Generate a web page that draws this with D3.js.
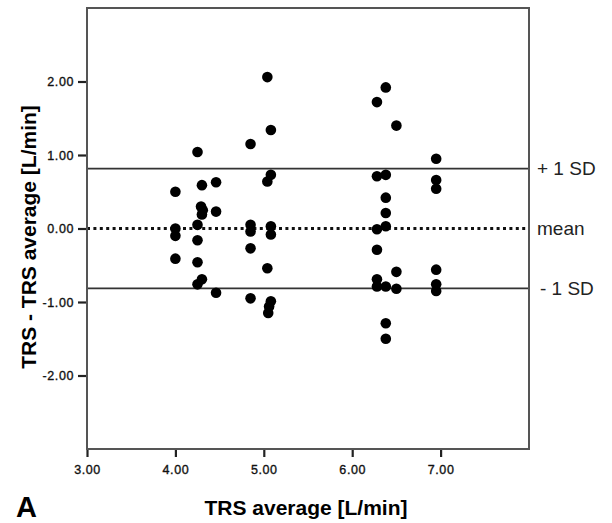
<!DOCTYPE html>
<html>
<head>
<meta charset="utf-8">
<script src="https://cdn.jsdelivr.net/npm/d3@7"></script>
<style>
  body { margin: 0; background: #fff; }
  svg { display: block; font-family: Arial, "Liberation Sans", sans-serif; }
</style>
</head>
<body>
<div id="chart"></div>
<script>
// TRS average (x) and TRS - TRS average (y)
const trsAverage = [
    4.00, 4.00, 4.00, 4.00,
    4.25, 4.30, 4.29, 4.31, 4.30, 4.25, 4.25, 4.25, 4.30, 4.25,
    4.46, 4.46, 4.46,
    4.85, 4.85, 4.85, 4.85, 4.85,
    5.04, 5.08, 5.08, 5.04, 5.08, 5.08, 5.04, 5.08, 5.06, 5.05,
    6.28, 6.28, 6.28, 6.28, 6.28, 6.28,
    6.38, 6.38, 6.38, 6.38, 6.38, 6.38, 6.38, 6.38,
    6.50, 6.50, 6.50,
    6.95, 6.95, 6.95, 6.95, 6.95, 6.95
];
const trsDiff = [
    0.50, 0.00, -0.10, -0.41,
    1.04, 0.59, 0.30, 0.25, 0.19, 0.05, -0.16, -0.46, -0.69, -0.76,
    0.63, 0.23, -0.875,
    1.15, 0.05, -0.04, -0.27, -0.95,
    2.06, 1.34, 0.73, 0.64, 0.03, -0.08, -0.54, -0.99, -1.06, -1.15,
    1.72, 0.71, -0.01, -0.29, -0.69, -0.79,
    1.92, 0.73, 0.42, 0.21, 0.03, -0.79, -1.29, -1.50,
    1.40, -0.59, -0.82,
    0.95, 0.66, 0.54, -0.56, -0.76, -0.85
];

const xTicks = [3, 4, 5, 6, 7];
const yTicks = [-2, -1, 0, 1, 2];

// reference lines: mean and +/- 1 SD
const refValues = [0.815, 0, -0.815];
const refLabels = ["+ 1 SD", "mean", "- 1 SD"];

const width = 612, height = 523;
const margin = { top: 8, right: 83, bottom: 74, left: 87 };

const svg = d3.select("#chart")
    .append("svg")
    .attr("width", width)
    .attr("height", height);

const x = d3.scaleLinear()
    .domain([3, 8])
    .range([margin.left, width - margin.right]);

const y = d3.scaleLinear()
    .domain([-3, 3])
    .range([height - margin.bottom, margin.top]);

const fmt = v => v.toFixed(2);

// Axes
const xAxis = svg.append("g")
    .attr("transform", `translate(0,${height - margin.bottom})`)
    .call(d3.axisBottom(x).tickValues(xTicks).tickFormat(fmt).tickSize(8).tickPadding(8));

const yAxis = svg.append("g")
    .attr("transform", `translate(${margin.left},0)`)
    .call(d3.axisLeft(y).tickValues(yTicks).tickFormat(fmt).tickSize(9).tickPadding(4));

[xAxis, yAxis].forEach(a => {
    a.select(".domain").remove();
    a.selectAll(".tick line").attr("stroke", "#222").attr("stroke-width", 2.2);
    a.selectAll(".tick text")
        .attr("fill", "#111")
        .attr("stroke", "#111")
        .attr("stroke-width", 0.35)
        .style("font-size", "12.5px")
        .style("letter-spacing", "0.6px");
});

// Reference lines
svg.selectAll(".ref")
    .data(refValues)
    .enter()
    .append("line")
    .attr("class", "ref")
    .attr("x1", x(3))
    .attr("x2", x(8))
    .attr("y1", d => y(d))
    .attr("y2", d => y(d))
    .attr("stroke", (d, i) => i === 1 ? "#111" : "#333")
    .attr("stroke-width", (d, i) => i === 1 ? 2.8 : 1.8)
    .attr("stroke-dasharray", (d, i) => i === 1 ? "3,3.4" : null);

// Points
svg.selectAll(".pt")
    .data(trsAverage)
    .enter()
    .append("circle")
    .attr("class", "pt")
    .attr("cx", d => x(d))
    .attr("cy", (d, i) => y(trsDiff[i]))
    .attr("r", 5.3)
    .attr("fill", "#000");

// Plot frame
svg.append("rect")
    .attr("x", x(3))
    .attr("y", y(3))
    .attr("width", x(8) - x(3))
    .attr("height", y(-3) - y(3))
    .attr("fill", "none")
    .attr("stroke", "#555")
    .attr("stroke-width", 2);

// Right-hand labels
svg.selectAll(".refLabel")
    .data(refValues)
    .enter()
    .append("text")
    .attr("class", "refLabel")
    .attr("x", (d, i) => i === 2 ? x(8) + 11 : x(8) + 8)
    .attr("y", d => y(d))
    .attr("dy", "0.35em")
    .attr("fill", "#222")
    .style("font-size", "19px")
    .text((d, i) => refLabels[i]);

// Axis titles
svg.append("text")
    .attr("x", (x(3) + x(8)) / 2 - 2)
    .attr("y", 515)
    .attr("text-anchor", "middle")
    .style("font-size", "21px")
    .style("font-weight", "bold")
    .text("TRS average [L/min]");

svg.append("text")
    .attr("transform", "translate(36,237) rotate(-90)")
    .attr("text-anchor", "middle")
    .style("font-size", "21px")
    .style("font-weight", "bold")
    .text("TRS - TRS average [L/min]");

// Panel letter
svg.append("text")
    .attr("x", 16)
    .attr("y", 517)
    .style("font-size", "29px")
    .style("font-weight", "bold")
    .text("A");
</script>
</body>
</html>
